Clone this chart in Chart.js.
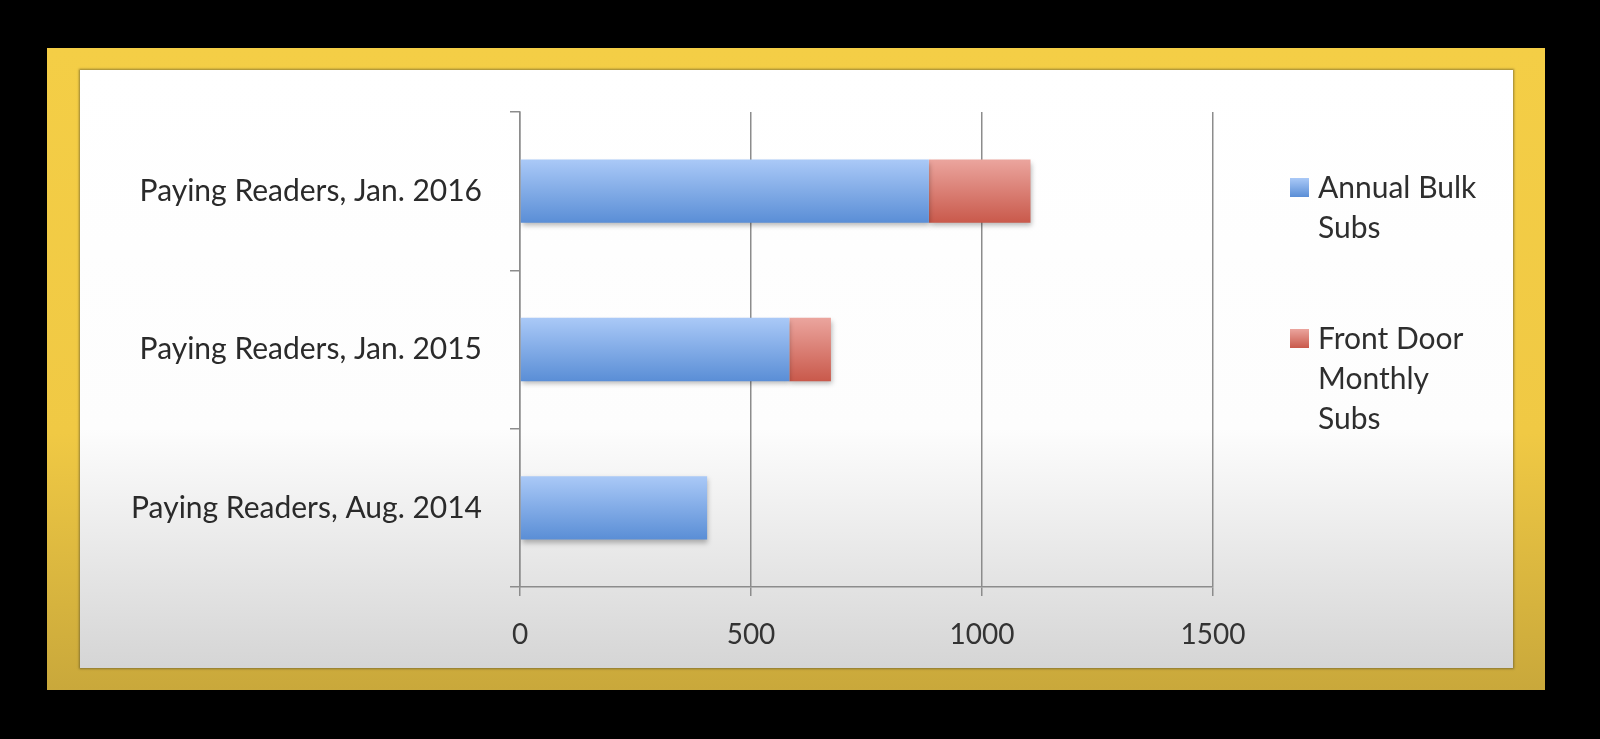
<!DOCTYPE html>
<html>
<head>
<meta charset="utf-8">
<script src="https://cdn.jsdelivr.net/npm/chart.js@4"></script>
<style>
  html, body { margin: 0; padding: 0; background: #000; }
  #frame { position: absolute; left: 47px; top: 48px; width: 1498px; height: 642px;
    background: linear-gradient(#f4ce46, #f0c944 60%, #c9a83b); }
  #panel { position: absolute; left: 80px; top: 70px; width: 1433px; height: 598px;
    background: linear-gradient(#ffffff 0%, #fdfdfd 60%, #d5d5d5 100%);
    box-shadow: 0 0 2px 1px rgba(90, 80, 40, 0.6); }
  #wrap { position: absolute; left: 0; top: 0; width: 1600px; height: 739px; }
  #legend { position: absolute; left: 1290px; top: 166px; font-family: Lato, sans-serif;
    font-size: 30px; line-height: 40px; color: #2e2e2e; }
  .item { position: relative; padding-left: 28px; margin-bottom: 71px; width: 190px; }
  .box { position: absolute; left: 0; top: 12px; width: 19px; height: 19px; }
</style>
</head>
<body>
<div id="frame"></div>
<div id="panel"></div>
<div id="wrap"><canvas id="bar-chart" width="1600" height="739"></canvas></div>
<div id="legend"></div>
<script>
// stacked horizontal bars, paying readers
var categories = ['Paying Readers, Jan. 2016', 'Paying Readers, Jan. 2015', 'Paying Readers, Aug. 2014'];
var annualBulk = [885, 583, 405];
var frontDoor = [220, 90, 0];
var seriesNames = [['Annual Bulk', 'Subs'], ['Front Door', 'Monthly', 'Subs']];
var xTicks = [0, 500, 1000, 1500];

function barGradient(top, bottom) {
    return function (context) {
        var chart = context.chart;
        var y = chart.scales.y;
        if (!y || context.dataIndex == null) return bottom;
        var center = y.getPixelForValue(context.dataIndex);
        var band = Math.abs(y.getPixelForValue(1) - y.getPixelForValue(0));
        var half = band * 0.4 / 2;
        if (!isFinite(center) || !isFinite(half) || half <= 0) return bottom;
        var g = chart.ctx.createLinearGradient(0, center - half, 0, center + half);
        g.addColorStop(0, top);
        g.addColorStop(1, bottom);
        return g;
    };
}

var shadowPlugin = {
    id: 'barShadow',
    beforeDatasetsDraw: function (chart) {
        var ctx = chart.ctx;
        ctx.save();
        ctx.shadowColor = 'rgba(0,0,0,0.28)';
        ctx.shadowBlur = 5;
        ctx.shadowOffsetX = 1;
        ctx.shadowOffsetY = 3;
    },
    afterDatasetsDraw: function (chart) {
        chart.ctx.restore();
    }
};

var ctx = document.getElementById('bar-chart').getContext('2d');
var myChart = new Chart(ctx, {
    type: 'bar',
    data: {
        labels: categories,
        datasets: [{
            label: seriesNames[0].join(' '),
            data: annualBulk,
            backgroundColor: barGradient('#aac9f7', '#5a8ed6'),
            borderWidth: 0,
            categoryPercentage: 0.8,
            barPercentage: 0.5
        }, {
            label: seriesNames[1].join(' '),
            data: frontDoor,
            backgroundColor: barGradient('#eba59e', '#c9594b'),
            borderWidth: 0,
            categoryPercentage: 0.8,
            barPercentage: 0.5
        }]
    },
    options: {
        indexAxis: 'y',
        responsive: false,
        animation: false,
        layout: { padding: { top: 112, right: 387, bottom: 92, left: 0 } },
        plugins: {
            legend: { display: false },
            tooltip: { enabled: false }
        },
        scales: {
            x: {
                stacked: true,
                min: 0,
                max: 1500,
                afterFit: function (scale) { scale.height = 60; },
                afterBuildTicks: function (scale) {
                    scale.ticks = xTicks.map(function (v) { return { value: v }; });
                },
                grid: { color: '#8c8c8c', lineWidth: 1.5, tickLength: 9 },
                border: { color: '#8c8c8c', width: 1.5 },
                ticks: {
                    color: '#333', padding: 22, font: { family: 'Lato', size: 28 },
                    callback: function (value) { return String(value); }
                }
            },
            y: {
                stacked: true,
                afterFit: function (scale) { scale.width = 520; },
                grid: { drawOnChartArea: false, color: '#8c8c8c', lineWidth: 1.5, tickLength: 10, offset: true },
                border: { color: '#8c8c8c', width: 1.5 },
                ticks: { color: '#2a2a2a', padding: 28, font: { family: 'Lato', size: 30 } }
            }
        }
    },
    plugins: [shadowPlugin]
});

// html legend with wrapped names
var legendColors = ['linear-gradient(#aac9f7, #5a8ed6)', 'linear-gradient(#eba59e, #c9594b)'];
var legend = document.getElementById('legend');
seriesNames.forEach(function (lines, i) {
    var item = document.createElement('div');
    item.className = 'item';
    var box = document.createElement('span');
    box.className = 'box';
    box.style.background = legendColors[i];
    item.appendChild(box);
    lines.forEach(function (t) {
        var d = document.createElement('div');
        d.textContent = t;
        item.appendChild(d);
    });
    legend.appendChild(item);
});
</script>
</body>
</html>
